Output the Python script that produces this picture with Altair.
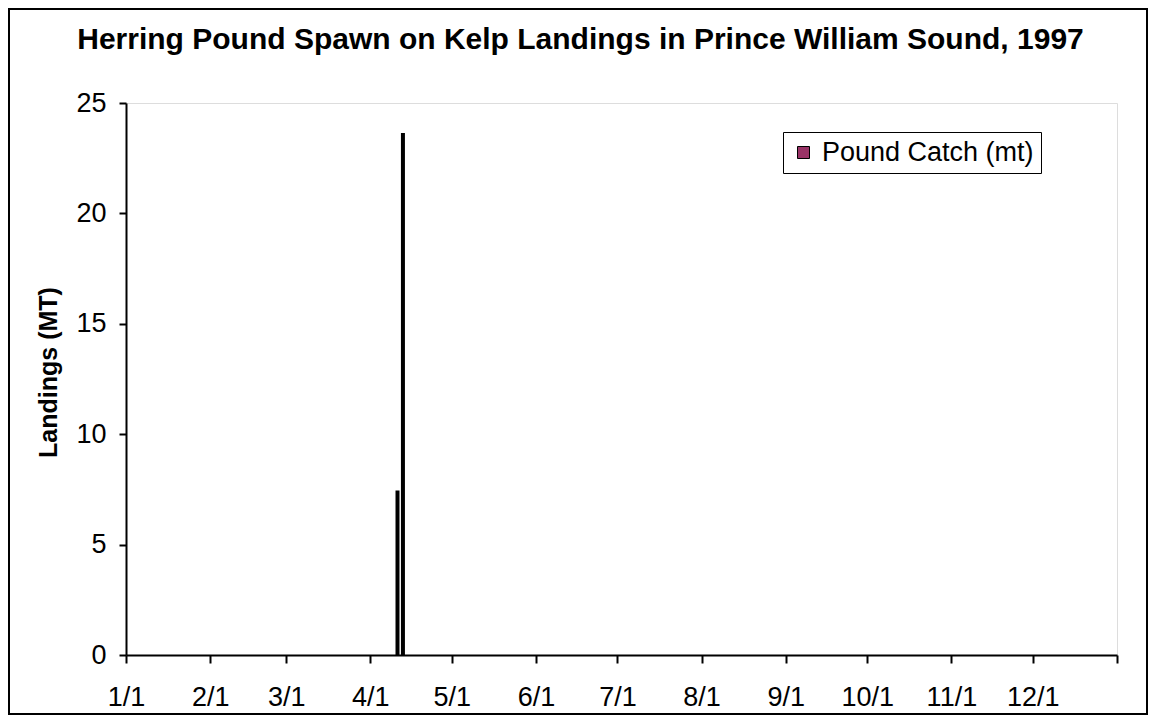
import altair as alt
import pandas as pd

# Data
dates = ["1997-04-11", "1997-04-13"]
landings = [7.4, 23.6]
series = ["Pound Catch (mt)", "Pound Catch (mt)"]
y_ticks = [0, 5, 10, 15, 20, 25]
month_ticks = [(1997, m) for m in range(1, 13)] + [(1998, 1)]

df = pd.DataFrame({"date": dates, "landings": landings, "series": series})

FONT = "Liberation Sans"
W, H = 991, 552
PL, PT, PR, PB = 118, 95, 31, 60

x_values = [alt.DateTime(year=y, month=m, date=1, utc=True) for (y, m) in month_ticks]

bars = alt.Chart(df).mark_bar(size=2, stroke="black", strokeWidth=2).encode(
    x=alt.X(
        "date:T",
        scale=alt.Scale(
            type="utc",
            padding=0,
            domain=[alt.DateTime(year=1997, month=1, date=1, utc=True),
                    alt.DateTime(year=1998, month=1, date=1, utc=True)],
        ),
        axis=alt.Axis(
            title=None,
            values=x_values,
            labelExpr="utcyear(datum.value) == 1998 ? '' : utcFormat(datum.value, '%-m/%-d')",
            labelFont=FONT,
            labelFontSize=27,
            labelColor="black",
            labelPadding=21,
            tickSize=8,
            tickWidth=2,
            tickColor="black",
            domainColor="black",
            domainWidth=2,
            grid=False,
            labelOverlap=False,
            labelFlush=False,
        ),
    ),
    y=alt.Y(
        "landings:Q",
        scale=alt.Scale(domain=[0, 25], nice=False),
        axis=alt.Axis(
            title="Landings (MT)",
            values=y_ticks,
            labelFont=FONT,
            labelFontSize=27,
            labelColor="black",
            labelPadding=13,
            tickSize=7,
            tickWidth=2,
            tickColor="black",
            domainColor="black",
            domainWidth=2,
            grid=False,
            titleFont=FONT,
            titleFontSize=25,
            titleFontWeight="bold",
            titleColor="black",
            titleX=-78,
            titleY=H / 2 - 7,
            titleAngle=270,
            titleAlign="center",
            titleBaseline="middle",
        ),
    ),
    color=alt.Color(
        "series:N",
        scale=alt.Scale(range=["#993366"]),
        legend=alt.Legend(
            title=None,
            orient="none",
            legendX=657,
            legendY=29,
            strokeColor="black",
            padding=7,
            symbolType="square",
            symbolSize=144,
            symbolStrokeColor="black",
            symbolStrokeWidth=1,
            symbolOpacity=1,
            labelFont=FONT,
            labelFontSize=27,
            labelColor="black",
            labelLimit=400,
            labelOffset=5,
        ),
    ),
)

border = alt.Chart(alt.Data(values=[{"a": 1}])).mark_rect(
    filled=False, stroke="black", strokeWidth=2, clip=False
).encode(
    x=alt.value(-PL + 1),
    x2=alt.value(W + PR - 1),
    y=alt.value(-PT + 1),
    y2=alt.value(H + PB - 1),
)

chart = alt.layer(bars, border).properties(
    width=W,
    height=H,
    padding={"left": PL, "top": PT, "right": PR, "bottom": PB},
    autosize=alt.AutoSizeParams(type="none"),
    title=alt.TitleParams(
        "Herring Pound Spawn on Kelp Landings in Prince William Sound, 1997",
        font=FONT,
        fontSize=30,
        fontWeight="bold",
        color="black",
        anchor="middle",
        frame="group",
        baseline="alphabetic",
        dx=-41,
        offset=-71,
    ),
).configure_view(stroke="black", strokeWidth=1).configure(background="white")

chart.save("out.html", embed_options={"renderer": "svg", "actions": False})
